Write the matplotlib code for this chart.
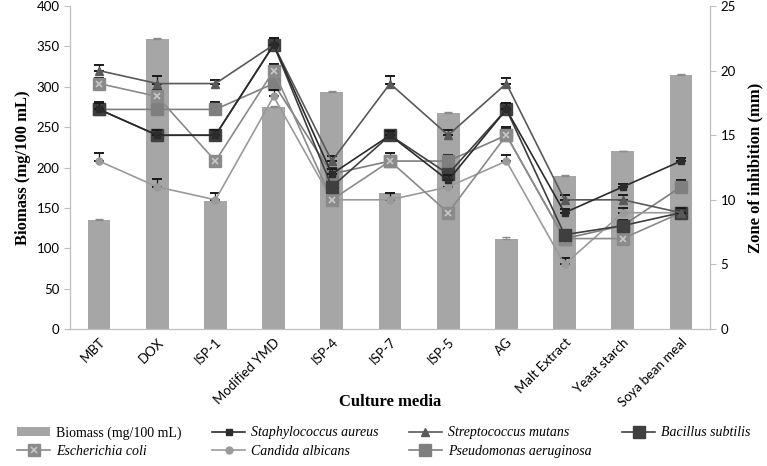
import numpy as np
import matplotlib
matplotlib.use('Agg')
import matplotlib.pyplot as plt
from matplotlib.legend_handler import HandlerTuple

media = ['MBT', 'DOX', 'ISP-1', 'Modified YMD', 'ISP-4', 'ISP-7', 'ISP-5', 'AG',
         'Malt Extract', 'Yeast starch', 'Soya bean meal']
biomass = [135, 359, 158, 275, 294, 168, 267, 112, 190, 220, 315]
biomass_err = [1, 1, 1, 1, 1, 1, 2, 2, 1, 1, 1]

staph = [17, 15, 15, 22, 12, 15, 11.5, 17, 9, 11, 13]
strep = [20, 19, 19, 22, 13, 19, 15, 19, 10, 10, 9]
bacillus = [17, 15, 15, 22, 11, 15, 12, 17, 7.3, 8, 9]
ecoli = [19, 18, 13, 20, 10, 13, 9, 15, 7, 7, 9]
candida = [13, 11, 10, 18, 10, 10, 11, 13, 5, 9, 9]
pseudo = [17, 17, 17, 19, 12, 13, 13, 15, 7, 8, 11]

staph_err = [0.5, 0.4, 0.4, 0.5, 0.4, 0.3, 0.4, 0.5, 0.3, 0.2, 0.2]
strep_err = [0.4, 0.6, 0.3, 0.5, 0.4, 0.6, 0.4, 0.4, 0.4, 0.4, 0.4]
bacillus_err = [0.5, 0.4, 0.4, 0.5, 0.4, 0.3, 0.4, 0.5, 0.3, 0.4, 0.4]
ecoli_err = [0.4, 0.5, 0.4, 0.5, 0.4, 0.4, 0.4, 0.5, 0.4, 0.4, 0.4]
candida_err = [0.6, 0.6, 0.5, 0.5, 0.4, 0.5, 0.5, 0.5, 0.5, 0.4, 0.4]
pseudo_err = [0.6, 0.4, 0.6, 0.6, 0.5, 0.6, 0.5, 0.6, 0.4, 0.4, 0.5]

serif = 'Liberation Serif'
x = np.arange(len(media))

fig = plt.figure(figsize=(7.67, 4.66), dpi=100)
ax1 = fig.add_axes([0.0913, 0.294, 0.8344, 0.693])

bars = ax1.bar(x, biomass, width=0.39, color='#a6a6a6', label='Biomass (mg/100 mL)', zorder=1)
ax1.errorbar(x, biomass, yerr=[np.zeros(len(x)), biomass_err], fmt='none',
             ecolor='#8c8c8c', capsize=3, elinewidth=0.8, zorder=2)
ax1.set_xlim(-0.5, len(media) - 0.5)
ax1.set_ylim(0, 400)
ax1.set_yticks(range(0, 401, 50))
ax1.set_ylabel('Biomass (mg/100 mL)', fontfamily=serif, fontweight='bold', fontsize=12)
ax1.set_xlabel('Culture media', fontfamily=serif, fontweight='bold', fontsize=12)
ax1.xaxis.set_label_coords(0.5, -0.2)
ax1.set_xticks(x)
ax1.set_xticklabels(media, rotation=45, ha='right', rotation_mode='anchor',
                    fontfamily='Lato', fontsize=9.5)

ax2 = ax1.twinx()
ax2.set_ylim(0, 25)
ax2.set_yticks(range(0, 26, 5))
ax2.set_ylabel('Zone of inhibition (mm)', fontfamily=serif, fontweight='bold', fontsize=12,
               labelpad=8)

def series(vals, err, color, marker, ms, label, lw=1.2):
    ax2.errorbar(x, vals, yerr=[np.zeros(len(x)), err], fmt='none', ecolor='#1a1a1a',
                 capsize=3.5, elinewidth=0.9, capthick=1.4)
    ln, = ax2.plot(x, vals, color=color, marker=marker, ms=ms, lw=lw, label=label)
    return ln

h_pseudo = series(pseudo, pseudo_err, '#7f7f7f', 's', 8, 'Pseudomonas aeruginosa')
h_candida = series(candida, candida_err, '#9a9a9a', 'o', 5, 'Candida albicans')
h_ecoli = series(ecoli, ecoli_err, '#8a8a8a', 's', 8, 'Escherichia coli')
ex, = ax2.plot(x, ecoli, ls='none', marker='x', ms=5, mew=1.2, color='#c8c8c8')
h_bac = series(bacillus, bacillus_err, '#3f3f3f', 's', 8, 'Bacillus subtilis')
h_strep = series(strep, strep_err, '#595959', '^', 6, 'Streptococcus mutans')
h_staph = series(staph, staph_err, '#2b2b2b', 's', 4.5, 'Staphylococcus aureus')

for ax in (ax1, ax2):
    ax.spines['top'].set_visible(False)
    for s in ('left', 'right', 'bottom'):
        ax.spines[s].set_color('#bfbfbf')
    ax.tick_params(axis='y', colors='#bfbfbf', labelcolor='black', length=4, labelsize=9.5)
    ax.tick_params(axis='x', length=0, pad=5)
    for t in ax.get_yticklabels():
        t.set_fontfamily('Lato')

handles = [bars, (h_ecoli, ex), h_staph, h_candida, h_strep, h_pseudo, h_bac]
labels = ['Biomass (mg/100 mL)', 'Escherichia coli', 'Staphylococcus aureus',
          'Candida albicans', 'Streptococcus mutans', 'Pseudomonas aeruginosa',
          'Bacillus subtilis']
leg = fig.legend(handles, labels, ncol=4, loc='lower center', bbox_to_anchor=(0.5, -0.01),
                 frameon=False, handlelength=2.4, columnspacing=2.2, handletextpad=0.4,
                 labelspacing=0.4, prop={'family': serif, 'size': 10},
                 handler_map={tuple: HandlerTuple(ndivide=1)})
for t in leg.get_texts()[1:]:
    t.set_fontstyle('italic')

fig.savefig('out.png', dpi=100)
